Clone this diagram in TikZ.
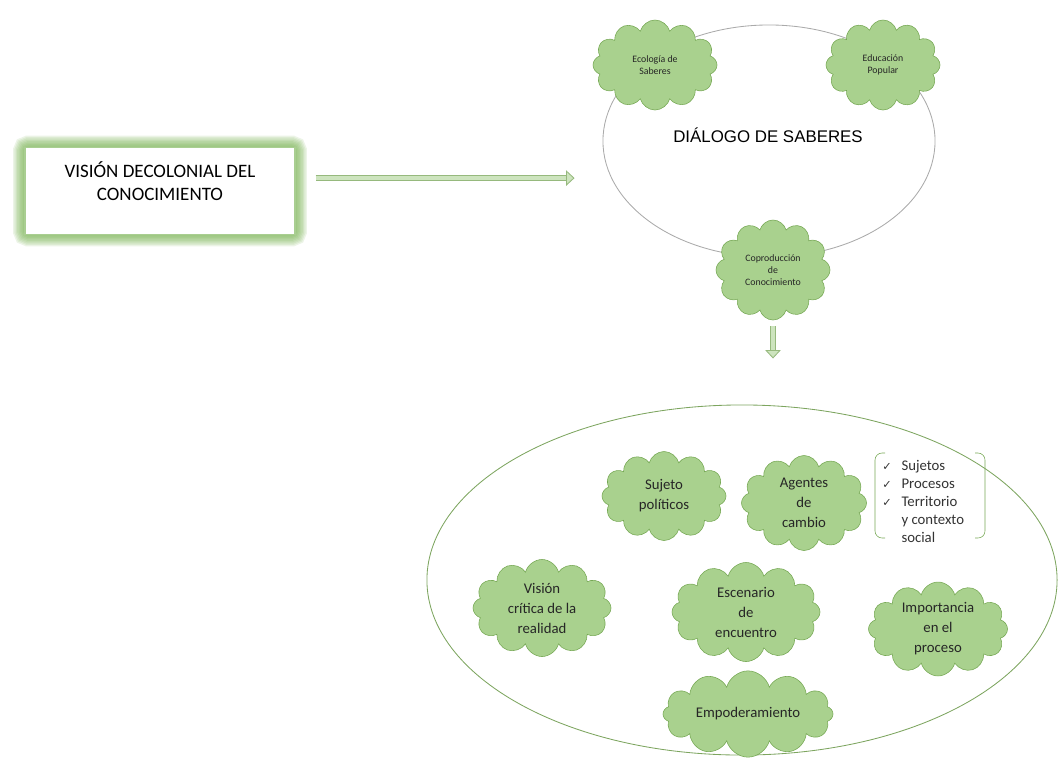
\documentclass[tikz,border=0pt]{standalone}
\usepackage{fontspec}
\setmainfont{Carlito}
\newfontfamily\titlefont{Liberation Sans}
\newfontfamily\checkfont{DejaVu Sans}
\usepackage{xcolor}
\usepackage{tikz}
\usetikzlibrary{shapes.geometric,shapes.symbols,arrows.meta,backgrounds}
\definecolor{cloudgreen}{RGB}{169,209,142}
\definecolor{cloudedge}{RGB}{118,168,84}
\definecolor{glowgreen}{RGB}{112,173,71}
\definecolor{arrowedge}{RGB}{150,185,125}
\definecolor{arrowfill}{RGB}{205,228,190}
\definecolor{ringgray}{RGB}{170,170,170}
\definecolor{ringgreen}{RGB}{125,165,95}

\begin{document}
\begin{tikzpicture}[x=0.025cm, y=-0.025cm]
    \tikzstyle{idea} = [cloud, cloud puffs=12, draw=cloudedge, fill=cloudgreen, inner sep=0pt, align=center, text=black!85]
    \tikzstyle{small idea} = [idea, font=\fontsize{7}{8.6}\selectfont]
    \tikzstyle{big idea} = [idea, font=\fontsize{10.5}{14.2}\selectfont]
    \tikzstyle{ring} = [ellipse, line width=0.6pt, inner sep=0pt]
    \tikzstyle{flow} = [draw=arrowedge, double=arrowfill, double distance=3.4pt, line width=0.6pt, -{Triangle[width=11pt, length=6pt, fill=arrowfill]}]

    \useasboundingbox (0,0) rectangle (1059,758);

    % Starting box
    \node [rectangle, draw=glowgreen!60, line width=1pt, fill=white, minimum width=6.75cm, minimum height=2.175cm, align=center, font=\fontsize{13.5}{16.4}\selectfont] (vision) at (160,191) {VISIÓN DECOLONIAL DEL\\CONOCIMIENTO\\[-2pt]};
    \begin{pgfonlayer}{background}
        \foreach \w in {2,4,...,16}
            \draw [glowgreen, opacity=0.13, line width=\w pt, rounded corners=3pt] (vision.south west) rectangle (vision.north east);
    \end{pgfonlayer}

    % Dialogue ring
    \node [ring, draw=ringgray, minimum width=8.3cm, minimum height=5.8cm] (dialogo) at (769,141) {};
    \node [font=\titlefont\fontsize{12}{14}\selectfont] (titulo) at (768,135) {DIÁLOGO DE SABERES};
    \node [small idea, aspect=1.39, minimum width=3.1cm, minimum height=2.25cm] (ecologia) at (655,65) {Ecología de\\Saberes};
    \node [small idea, aspect=1.26, minimum width=2.85cm, minimum height=2.25cm] (educacion) at (883,65) {Educación\\Popular};
    \node [small idea, aspect=1.13, minimum width=2.85cm, minimum height=2.5cm] (coproduccion) at (773,270) {Coproducción\\de\\Conocimiento};

    % Outcome ring
    \node [ring, draw=ringgreen, minimum width=15.75cm, minimum height=8.75cm] (saberes) at (742,580) {};
    \node [big idea, aspect=1.39, minimum width=3.1cm, minimum height=2.225cm] (sujeto) at (664,496) {Sujeto\\políticos};
    \node [big idea, aspect=1.32, minimum width=3.125cm, minimum height=2.375cm] (agentes) at (804,503) {Agentes\\de\\cambio};
    \node [big idea, aspect=1.42, minimum width=3.45cm, minimum height=2.425cm] (critica) at (542,608) {Visión\\crítica de la\\realidad};
    \node [big idea, aspect=1.5, minimum width=3.7cm, minimum height=2.475cm] (escenario) at (746,612) {Escenario\\de\\encuentro};
    \node [big idea, aspect=1.51, minimum width=3.475cm, minimum height=2.3cm] (importancia) at (938,629) {Importancia\\en el\\proceso};
    \node [big idea, aspect=2.5, minimum width=4.25cm, minimum height=1.75cm] (empoderamiento) at (748,714) {Empoderamiento};

    % Checklist
    \node [anchor=west, inner sep=0pt, font=\fontsize{10.5}{12.8}\selectfont, text=black!80] (lista) at (882,503) {\begin{tabular}{@{}l@{\hspace{7pt}}l@{}}
        {\checkfont\fontsize{8}{8}\selectfont ✓} & Sujetos\\
        {\checkfont\fontsize{8}{8}\selectfont ✓} & Procesos\\
        {\checkfont\fontsize{8}{8}\selectfont ✓} & Territorio\\
        & y contexto\\
        & social
    \end{tabular}};
    \draw [cloudedge, rounded corners=5pt] (885,453) -- (875,453) -- (875,538) -- (885,538);
    \draw [cloudedge, rounded corners=5pt] (975,453) -- (985,453) -- (985,538) -- (975,538);

    % Arrows
    \coordinate (salida) at ([yshift=9.2pt]vision.east);
    \draw [flow, shorten <=0.5cm, shorten >=0.7cm] (salida) -- (salida -| dialogo.west);
    \draw [flow, shorten <=0.15cm, shorten >=1.15cm] (coproduccion.south) -- (coproduccion.south |- saberes.north);
\end{tikzpicture}
\end{document}
